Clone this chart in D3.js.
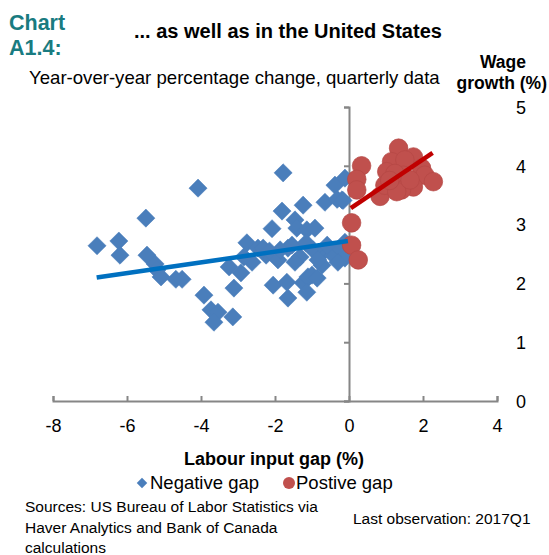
<!DOCTYPE html>
<html>
<head>
<meta charset="utf-8">
<script src="https://cdn.jsdelivr.net/npm/d3@7"></script>
<style>
  body { margin: 0; background: #fff; }
  svg { display: block; font-family: "Liberation Sans", Arial, sans-serif; }
  .narrow { font-family: "Liberation Sans Narrow", "Arial Narrow", "Liberation Sans", sans-serif; }
</style>
</head>
<body>
<div id="chart"></div>
<script>
// labour input gap (%) vs wage growth (%), negative gap quarters
var negGap = [-6.81, -6.22, -6.19, -5.49, -5.46, -5.24, -5.19, -5.08, -4.68, -4.51,
  -4.08, -3.92, -3.73, -3.54, -3.65, -3.14, -3.11, -3.24, -2.92, -2.76,
  -2.62, -2.46, -2.24, -2.08, -2.05, -1.92, -1.78, -1.81, -1.68, -1.65,
  -1.65, -1.46, -1.41, -1.32, -1.24, -1.24, -1.14, -1.11, -1.14, -1.00,
  -0.92, -0.86, -0.73, -0.70, -0.65, -0.43, -0.38, -0.19, -0.11, -0.11,
  -0.24, -1.54, -1.16, -2.32, -0.59, -0.97, -1.86, -1.46, -0.84, -0.11,
  -0.30, -0.32, -0.16, -2.84, -2.15];
var negWage = [2.64, 2.72, 2.48, 3.11, 2.48, 2.33, 2.23, 2.11, 2.07, 2.07,
  3.62, 1.80, 1.55, 1.51, 1.34, 1.43, 1.92, 2.28, 2.18, 2.69,
  2.36, 2.60, 2.48, 2.93, 1.97, 2.40, 3.88, 3.23, 2.02, 1.75,
  2.60, 3.08, 2.94, 2.45, 3.33, 2.01, 2.91, 2.11, 1.85, 2.14,
  2.94, 2.09, 2.31, 2.53, 3.38, 2.48, 3.67, 3.42, 3.79, 2.70,
  2.60, 2.65, 2.69, 2.60, 2.65, 2.57, 2.57, 2.36, 2.40, 2.43,
  2.36, 3.43, 3.41, 2.45, 2.55];

// positive gap quarters
var posGap = [0.34, 0.21, 0.21, 0.07, 0.07, 0.25, 0.84, 1.34, 1.15, 1.74,
  1.51, 1.02, 0.97, 1.47, 1.96, 2.05, 2.28, 1.74, 1.42, 1.29,
  1.24, 1.65, 1.10];
var posWage = [4.00, 3.77, 3.59, 3.03, 2.65, 2.40, 3.48, 4.30, 4.07, 4.15,
  4.10, 3.90, 3.67, 3.84, 3.96, 3.84, 3.73, 3.64, 3.59, 3.56,
  3.87, 3.76, 3.75];

// fitted lines (end points)
var negFitX = [-6.82, -0.03];
var negFitY = [2.10, 2.72];
var posFitX = [0.05, 2.26];
var posFitY = [3.28, 4.22];

var xTicks = [-8, -6, -4, -2, 0, 2, 4];
var yTicks = [0, 1, 2, 3, 4, 5];

var W = 549, H = 555;
var svg = d3.select("#chart").append("svg").attr("width", W).attr("height", H);

var x = d3.scaleLinear().domain([-8, 4]).range([53, 497]);
var y = d3.scaleLinear().domain([0, 5]).range([401, 107]);

// titles
svg.append("text").attr("x", 9).attr("y", 30).attr("font-size", 21.5).attr("font-weight", "bold")
  .attr("fill", "#197b80").text("Chart");
svg.append("text").attr("x", 9).attr("y", 55).attr("font-size", 21.5).attr("font-weight", "bold")
  .attr("fill", "#197b80").text("A1.4:");
svg.append("text").attr("x", 134).attr("y", 38).attr("font-size", 20).attr("font-weight", "bold")
  .attr("fill", "#000").text("... as well as in the United States");
svg.append("text").attr("x", 29).attr("y", 84).attr("font-size", 18.6).attr("fill", "#000")
  .text("Year-over-year percentage change, quarterly data");
svg.append("text").attr("x", 503).attr("y", 68).attr("font-size", 17.5).attr("font-weight", "bold")
  .attr("text-anchor", "middle").text("Wage");
svg.append("text").attr("x", 547).attr("y", 89).attr("font-size", 17.5).attr("font-weight", "bold")
  .attr("text-anchor", "end").text("growth (%)");

// axes
var fmt = function (d) { return String(d); };
var xAxis = svg.append("g").attr("transform", "translate(0," + y(0) + ")")
  .call(d3.axisBottom(x).tickValues(xTicks).tickSize(-5).tickFormat(fmt));
var yAxis = svg.append("g").attr("transform", "translate(" + x(0) + ",0)")
  .call(d3.axisLeft(y).tickValues(yTicks).tickSize(5).tickFormat(fmt));

[xAxis, yAxis].forEach(function (g) {
  g.select(".domain").attr("stroke", "#868686").attr("stroke-width", 2);
  g.selectAll(".tick line").attr("stroke", "#868686").attr("stroke-width", 2);
  g.selectAll("text").attr("font-size", 18).attr("fill", "#000")
    .attr("font-family", "Liberation Sans, Arial, sans-serif");
});
yAxis.selectAll("text").attr("x", 521 - x(0)).attr("text-anchor", "middle").attr("dy", "0.35em");
xAxis.selectAll("text").attr("dy", null).attr("y", 31);

svg.append("text").attr("x", 274).attr("y", 465).attr("font-size", 18).attr("font-weight", "bold")
  .attr("text-anchor", "middle").text("Labour input gap (%)");

// points
var diamond = d3.symbol().type(d3.symbolSquare).size(165);
svg.append("g").selectAll("path").data(negGap).join("path")
  .attr("d", diamond)
  .attr("transform", function (d, i) { return "translate(" + x(d) + "," + y(negWage[i]) + ") rotate(45)"; })
  .attr("fill", "#4a7ebb").attr("stroke", "#4a7ebb").attr("stroke-width", 0.5);

svg.append("g").selectAll("circle").data(posGap).join("circle")
  .attr("cx", function (d) { return x(d); })
  .attr("cy", function (d, i) { return y(posWage[i]); })
  .attr("r", 9.3)
  .attr("fill", "#c0504d").attr("stroke", "#b54845").attr("stroke-width", 0.7);

// fitted lines
var line = d3.line().x(function (d) { return x(d[0]); }).y(function (d) { return y(d[1]); });
svg.append("path").datum(d3.zip(negFitX, negFitY)).attr("d", line)
  .attr("stroke", "#0070c0").attr("stroke-width", 4.5).attr("fill", "none");
svg.append("path").datum(d3.zip(posFitX, posFitY)).attr("d", line)
  .attr("stroke", "#c00000").attr("stroke-width", 4.5).attr("fill", "none");

// legend
var leg = svg.append("g").attr("font-size", 18.5);
leg.append("path").attr("d", d3.symbol().type(d3.symbolSquare).size(55))
  .attr("transform", "translate(142,483) rotate(45)").attr("fill", "#4a7ebb");
leg.append("text").attr("x", 150).attr("y", 489).text("Negative gap");
leg.append("circle").attr("cx", 289).attr("cy", 483).attr("r", 6).attr("fill", "#c0504d");
leg.append("text").attr("x", 296).attr("y", 489).text("Postive gap");

// sources
var src = svg.append("g").attr("class", "narrow").attr("font-size", 15.5).attr("fill", "#000");
src.append("text").attr("x", 25).attr("y", 512).text("Sources: US Bureau of Labor Statistics via");
src.append("text").attr("x", 25).attr("y", 533).text("Haver Analytics and Bank of Canada");
src.append("text").attr("x", 25).attr("y", 553).text("calculations");
src.append("text").attr("x", 353).attr("y", 524).text("Last observation: 2017Q1");
</script>
</body>
</html>
